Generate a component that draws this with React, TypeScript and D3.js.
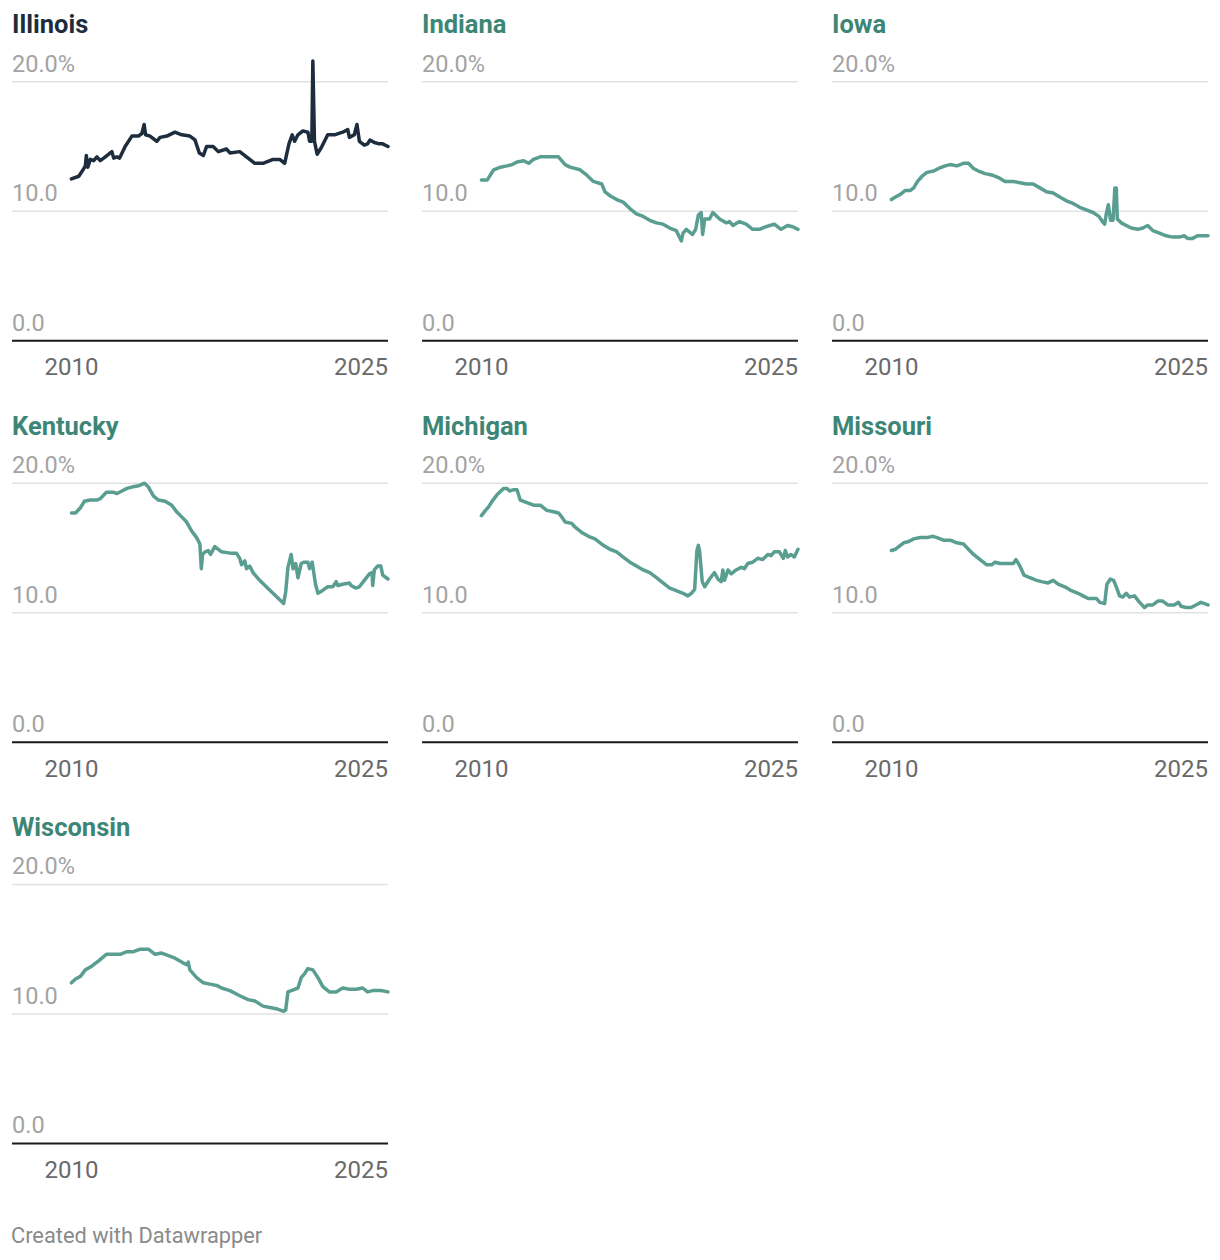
import React from "react";
import * as d3 from "d3";

// [decimal year, percent]
const illinois: [number, number][] = [
  [2010.0, 12.5], [2010.36, 12.7], [2010.57, 13.2], [2010.68, 13.5], [2010.73, 14.3],
  [2010.8, 13.4], [2010.93, 14.0], [2011.09, 13.9], [2011.25, 14.2], [2011.41, 13.9],
  [2011.66, 14.2], [2011.98, 14.6], [2012.07, 14.1], [2012.23, 14.2], [2012.36, 14.1],
  [2012.63, 15.0], [2012.96, 15.8], [2013.28, 15.8], [2013.45, 16.0], [2013.56, 16.7],
  [2013.63, 15.9], [2013.85, 15.8], [2014.18, 15.4], [2014.34, 15.7], [2014.67, 15.8],
  [2015.07, 16.1], [2015.4, 15.9], [2015.8, 15.8], [2016.05, 15.5], [2016.26, 14.5],
  [2016.46, 14.3], [2016.62, 15.0], [2016.94, 15.0], [2017.19, 14.6], [2017.59, 14.8],
  [2017.76, 14.5], [2018.24, 14.6], [2018.57, 14.2], [2018.73, 14.0], [2018.98, 13.7],
  [2019.38, 13.7], [2019.87, 14.0], [2020.2, 14.0], [2020.44, 13.7], [2020.65, 15.2],
  [2020.81, 15.9], [2020.93, 15.4], [2021.09, 15.9], [2021.33, 16.2], [2021.58, 16.1],
  [2021.66, 15.4], [2021.77, 15.4], [2021.82, 21.6], [2021.9, 15.4], [2022.03, 14.4],
  [2022.23, 14.9], [2022.55, 15.9], [2022.88, 15.9], [2023.28, 16.1], [2023.53, 16.3],
  [2023.61, 15.7], [2023.85, 15.9], [2023.98, 16.7], [2024.1, 15.4], [2024.34, 15.1],
  [2024.5, 15.2], [2024.62, 15.5], [2024.83, 15.3], [2025.07, 15.2], [2025.24, 15.2],
  [2025.5, 15.0],
];

const indiana: [number, number][] = [
  [2010.0, 12.4], [2010.28, 12.4], [2010.6, 13.2], [2010.93, 13.4], [2011.25, 13.5],
  [2011.5, 13.6], [2011.74, 13.8], [2012.07, 13.9], [2012.31, 13.7], [2012.55, 14.0],
  [2012.88, 14.2], [2013.37, 14.2], [2013.77, 14.2], [2014.1, 13.6], [2014.34, 13.4],
  [2014.83, 13.2], [2015.15, 12.8], [2015.48, 12.3], [2015.89, 12.1], [2016.05, 11.5],
  [2016.29, 11.2], [2016.62, 10.9], [2016.94, 10.7], [2017.27, 10.2], [2017.59, 9.8],
  [2017.92, 9.6], [2018.24, 9.3], [2018.57, 9.1], [2018.89, 9.0], [2019.22, 8.7],
  [2019.54, 8.5], [2019.79, 7.7], [2019.87, 8.3], [2020.03, 8.6], [2020.33, 8.2],
  [2020.49, 8.6], [2020.62, 9.7], [2020.76, 9.9], [2020.83, 8.2], [2020.93, 9.4],
  [2021.17, 9.4], [2021.33, 9.9], [2021.66, 9.4], [2021.98, 9.1], [2022.15, 9.2],
  [2022.31, 8.9], [2022.63, 9.2], [2022.96, 9.0], [2023.28, 8.6], [2023.61, 8.6],
  [2023.93, 8.8], [2024.34, 9.0], [2024.67, 8.6], [2024.99, 8.9], [2025.24, 8.8],
  [2025.5, 8.6],
];

const iowa: [number, number][] = [
  [2010.0, 10.9], [2010.2, 11.1], [2010.44, 11.3], [2010.68, 11.6], [2010.93, 11.6],
  [2011.09, 11.8], [2011.28, 12.3], [2011.5, 12.7], [2011.74, 13.0], [2012.07, 13.1],
  [2012.31, 13.3], [2012.63, 13.5], [2012.88, 13.6], [2013.2, 13.5], [2013.53, 13.7],
  [2013.77, 13.7], [2014.02, 13.3], [2014.26, 13.1], [2014.59, 12.9], [2014.91, 12.8],
  [2015.24, 12.6], [2015.56, 12.3], [2015.97, 12.3], [2016.29, 12.2], [2016.62, 12.1],
  [2016.94, 12.1], [2017.27, 11.8], [2017.59, 11.5], [2017.92, 11.4], [2018.24, 11.1],
  [2018.57, 10.8], [2018.89, 10.6], [2019.22, 10.3], [2019.54, 10.1], [2019.87, 9.9],
  [2020.16, 9.6], [2020.33, 9.2], [2020.44, 9.0], [2020.52, 9.8], [2020.62, 10.5],
  [2020.73, 9.3], [2020.85, 9.3], [2020.94, 11.8], [2021.01, 11.8], [2021.06, 9.4],
  [2021.25, 9.1], [2021.5, 8.9], [2021.74, 8.7], [2022.07, 8.6], [2022.31, 8.7],
  [2022.55, 8.9], [2022.8, 8.5], [2023.12, 8.3], [2023.45, 8.1], [2023.77, 8.0],
  [2024.1, 8.0], [2024.34, 8.1], [2024.5, 7.9], [2024.75, 7.9], [2024.99, 8.1],
  [2025.24, 8.1], [2025.5, 8.1],
];

const kentucky: [number, number][] = [
  [2010.0, 17.7], [2010.2, 17.7], [2010.44, 18.1], [2010.63, 18.6], [2010.93, 18.7],
  [2011.25, 18.7], [2011.41, 18.8], [2011.71, 19.3], [2012.07, 19.3], [2012.23, 19.2],
  [2012.47, 19.4], [2012.72, 19.6], [2012.96, 19.7], [2013.28, 19.8], [2013.58, 20.0],
  [2013.77, 19.7], [2014.02, 19.0], [2014.26, 18.7], [2014.59, 18.6], [2014.91, 18.3],
  [2015.15, 17.8], [2015.4, 17.4], [2015.64, 17.0], [2015.89, 16.3], [2016.13, 15.8],
  [2016.29, 15.3], [2016.36, 13.4], [2016.42, 14.5], [2016.54, 14.7], [2016.7, 14.8],
  [2016.81, 14.5], [2017.02, 15.1], [2017.35, 14.7], [2017.76, 14.6], [2018.08, 14.6],
  [2018.24, 14.2], [2018.33, 13.7], [2018.49, 14.0], [2018.57, 13.4], [2018.73, 13.6],
  [2018.89, 13.1], [2019.22, 12.5], [2019.54, 12.0], [2019.87, 11.5], [2020.2, 11.0],
  [2020.39, 10.7], [2020.49, 11.6], [2020.6, 13.5], [2020.76, 14.5], [2020.85, 13.4],
  [2020.98, 13.8], [2021.09, 12.7], [2021.25, 13.8], [2021.37, 13.9], [2021.58, 13.9],
  [2021.66, 13.4], [2021.79, 13.9], [2021.95, 12.2], [2022.07, 11.5], [2022.28, 11.7],
  [2022.55, 12.0], [2022.8, 12.0], [2022.96, 12.4], [2023.04, 12.1], [2023.28, 12.2],
  [2023.61, 12.3], [2023.69, 12.1], [2023.93, 11.9], [2024.1, 12.0], [2024.34, 12.5],
  [2024.59, 13.0], [2024.72, 13.1], [2024.75, 12.1], [2024.83, 13.3], [2024.99, 13.6],
  [2025.15, 13.6], [2025.24, 12.9], [2025.5, 12.6],
];

const michigan: [number, number][] = [
  [2010.0, 17.5], [2010.2, 17.9], [2010.36, 18.2], [2010.52, 18.6], [2010.76, 19.1],
  [2011.09, 19.6], [2011.25, 19.6], [2011.38, 19.4], [2011.58, 19.5], [2011.74, 19.5],
  [2011.9, 18.7], [2012.23, 18.5], [2012.55, 18.3], [2012.88, 18.3], [2013.2, 17.9],
  [2013.53, 17.8], [2013.77, 17.7], [2013.93, 17.4], [2014.1, 17.0], [2014.42, 16.9],
  [2014.59, 16.6], [2014.91, 16.2], [2015.24, 15.9], [2015.56, 15.7], [2015.97, 15.2],
  [2016.29, 14.9], [2016.62, 14.7], [2016.94, 14.3], [2017.27, 13.9], [2017.59, 13.6],
  [2017.92, 13.3], [2018.24, 13.1], [2018.57, 12.7], [2018.89, 12.3], [2019.22, 11.9],
  [2019.54, 11.7], [2019.87, 11.5], [2020.11, 11.3], [2020.28, 11.5], [2020.44, 11.8],
  [2020.55, 14.8], [2020.62, 15.2], [2020.68, 14.8], [2020.81, 12.4], [2020.93, 12.0],
  [2021.17, 12.6], [2021.41, 13.1], [2021.58, 12.6], [2021.74, 12.4], [2021.82, 13.3],
  [2021.9, 12.5], [2022.07, 13.3], [2022.23, 13.0], [2022.47, 13.3], [2022.72, 13.5],
  [2022.88, 13.4], [2023.04, 13.8], [2023.28, 13.9], [2023.53, 14.2], [2023.77, 14.1],
  [2024.02, 14.5], [2024.18, 14.4], [2024.34, 14.7], [2024.59, 14.7], [2024.78, 14.2],
  [2024.88, 14.8], [2024.99, 14.3], [2025.15, 14.5], [2025.32, 14.3], [2025.5, 14.9],
];

const missouri: [number, number][] = [
  [2010.0, 14.8], [2010.2, 14.9], [2010.36, 15.1], [2010.6, 15.4], [2010.85, 15.5],
  [2011.09, 15.7], [2011.41, 15.8], [2011.74, 15.8], [2012.03, 15.9], [2012.23, 15.8],
  [2012.55, 15.6], [2012.88, 15.6], [2013.2, 15.4], [2013.53, 15.3], [2013.77, 14.9],
  [2014.02, 14.5], [2014.34, 14.1], [2014.67, 13.7], [2014.91, 13.7], [2015.07, 13.9],
  [2015.32, 13.8], [2015.64, 13.8], [2015.97, 13.8], [2016.1, 14.1], [2016.29, 13.6],
  [2016.49, 12.9], [2016.78, 12.7], [2017.11, 12.5], [2017.35, 12.4], [2017.67, 12.3],
  [2017.92, 12.5], [2018.16, 12.2], [2018.49, 12.0], [2018.81, 11.7], [2019.14, 11.5],
  [2019.38, 11.3], [2019.63, 11.1], [2020.03, 11.1], [2020.2, 10.8], [2020.44, 10.7],
  [2020.55, 12.2], [2020.72, 12.6], [2020.88, 12.5], [2021.01, 12.0], [2021.17, 11.3],
  [2021.33, 11.2], [2021.5, 11.5], [2021.66, 11.2], [2021.9, 11.3], [2022.15, 10.8],
  [2022.39, 10.4], [2022.55, 10.6], [2022.8, 10.6], [2023.04, 10.9], [2023.28, 10.9],
  [2023.53, 10.6], [2023.85, 10.6], [2024.05, 10.8], [2024.18, 10.5], [2024.42, 10.4],
  [2024.67, 10.4], [2024.91, 10.6], [2025.15, 10.8], [2025.5, 10.6],
];

const wisconsin: [number, number][] = [
  [2010.0, 12.4], [2010.2, 12.7], [2010.44, 12.9], [2010.68, 13.4], [2011.01, 13.7],
  [2011.33, 14.1], [2011.71, 14.6], [2012.07, 14.6], [2012.39, 14.6], [2012.72, 14.8],
  [2013.04, 14.8], [2013.37, 15.0], [2013.77, 15.0], [2014.1, 14.6], [2014.42, 14.7],
  [2014.75, 14.5], [2015.07, 14.3], [2015.4, 14.0], [2015.64, 13.8], [2015.72, 14.0],
  [2015.8, 13.4], [2016.13, 12.8], [2016.46, 12.4], [2016.78, 12.3], [2017.11, 12.2],
  [2017.35, 12.0], [2017.76, 11.8], [2018.24, 11.4], [2018.65, 11.1], [2018.98, 11.0],
  [2019.38, 10.6], [2019.71, 10.5], [2020.03, 10.4], [2020.39, 10.2], [2020.49, 10.3],
  [2020.6, 11.7], [2020.76, 11.8], [2020.93, 11.9], [2021.09, 12.0], [2021.25, 12.8],
  [2021.41, 13.1], [2021.58, 13.5], [2021.82, 13.4], [2022.07, 12.8], [2022.31, 12.1],
  [2022.63, 11.7], [2022.96, 11.7], [2023.28, 12.0], [2023.61, 11.9], [2023.93, 11.9],
  [2024.26, 12.0], [2024.5, 11.7], [2024.75, 11.8], [2025.15, 11.8], [2025.5, 11.7],
];

const states = ["Illinois", "Indiana", "Iowa", "Kentucky", "Michigan", "Missouri", "Wisconsin"];
const series = [illinois, indiana, iowa, kentucky, michigan, missouri, wisconsin];
const highlighted = "Illinois";
const yTicks = [0, 10, 20];
const yTickLabels = ["0.0", "10.0", "20.0%"];
const xTicks = [2010, 2025];

const W = 1220;
const H = 1260;
const colX = [12, 422, 832];
const rowY = [0, 401.5, 802.7];
const panelW = 376;

const darkLine = "#1e2d3d";
const tealLine = "#5a9e92";
const tealTitle = "#3d8676";

const x = d3.scaleLinear().domain([2007.09, 2025.5]).range([0, panelW]);
const y = d3.scaleLinear().domain([0, 20]).range([340.7, 81.7]);
const line = d3
  .line<[number, number]>()
  .x((d) => x(d[0]))
  .y((d) => y(d[1]));

const Panel = ({ name, data, px, py }: { name: string; data: [number, number][]; px: number; py: number }) => {
  const isHi = name === highlighted;
  return (
    <g transform={`translate(${px},${py})`}>
      <text x={0} y={33} fontSize={25.5} fontWeight={700} fill={isHi ? darkLine : tealTitle}>
        {name}
      </text>
      {yTicks.map((t, i) => (
        <g key={t}>
          {t !== 0 && <line x1={0} x2={panelW} y1={y(t)} y2={y(t)} stroke="#e1e1e1" strokeWidth={1.5} />}
          <text x={0} y={y(t) - 10} fontSize={23.5} fill="#a3a3a3">
            {yTickLabels[i]}
          </text>
        </g>
      ))}
      <path
        d={line(data) || ""}
        fill="none"
        stroke={isHi ? darkLine : tealLine}
        strokeWidth={3.5}
        strokeLinejoin="round"
        strokeLinecap="round"
      />
      <line x1={0} x2={panelW} y1={y(0)} y2={y(0)} stroke="#1a1a1a" strokeWidth={2} />
      {xTicks.map((t) => {
        const pos = x(t);
        const anchorEnd = pos + 28 > panelW;
        return (
          <text
            key={t}
            x={anchorEnd ? panelW : pos}
            y={375}
            fontSize={24}
            fill="#6a6a6a"
            textAnchor={anchorEnd ? "end" : "middle"}
          >
            {t}
          </text>
        );
      })}
    </g>
  );
};

export default function App() {
  return (
    <svg
      width={W}
      height={H}
      style={{ position: "absolute", left: 0, top: 0, background: "#fff" }}
      fontFamily="Roboto, sans-serif"
    >
      {states.map((s, i) => (
        <Panel key={s} name={s} data={series[i]} px={colX[i % 3]} py={rowY[Math.floor(i / 3)]} />
      ))}
      <text x={11} y={1243} fontSize={21.8} fill="#8a8a8a">
        Created with Datawrapper
      </text>
    </svg>
  );
}
